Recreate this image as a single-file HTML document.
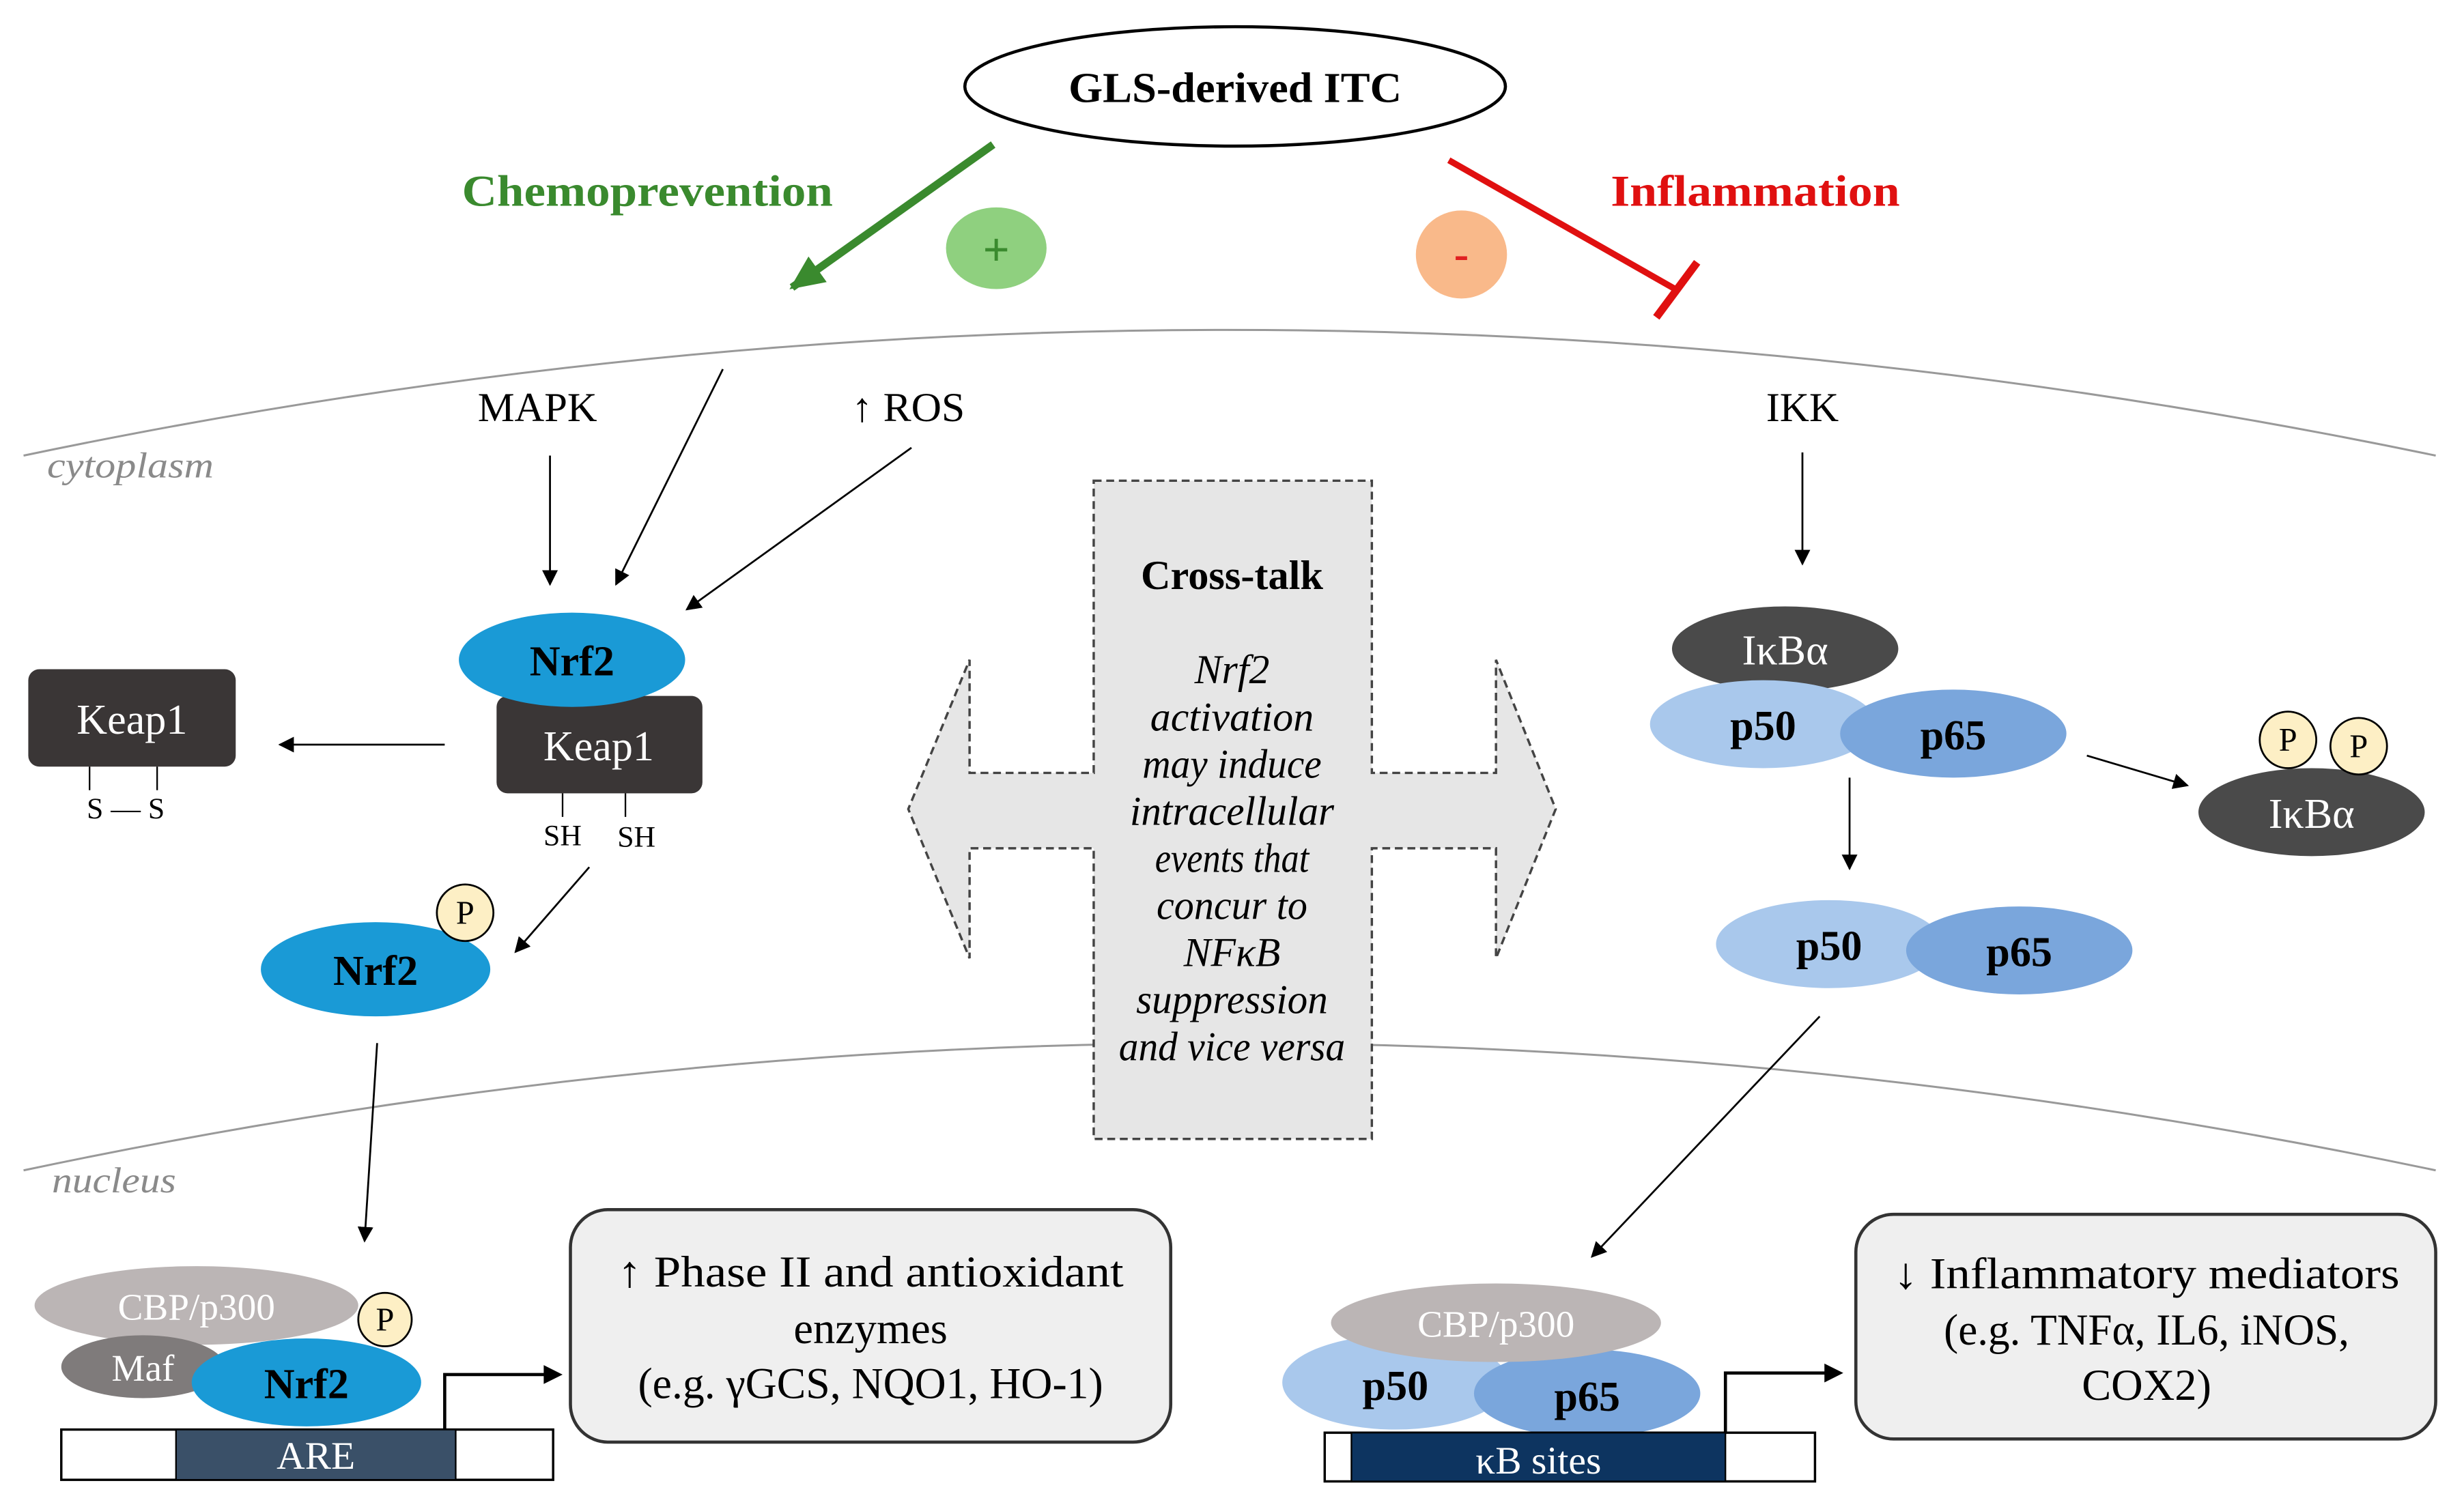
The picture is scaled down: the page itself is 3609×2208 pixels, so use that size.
<!DOCTYPE html>
<html><head><meta charset="utf-8"><style>
html,body{margin:0;padding:0;background:#fff;}
svg{display:block;}
text{font-family:"Liberation Serif",serif;}
</style></head><body>
<svg width="3609" height="2208" viewBox="0 0 1568 959.3" preserveAspectRatio="none" xmlns="http://www.w3.org/2000/svg">
<defs>
<marker id="ah" markerWidth="10" markerHeight="10" refX="9" refY="5" orient="auto" markerUnits="userSpaceOnUse"><path d="M0,0 L10,5 L0,10 z" fill="#000"/></marker>
<marker id="gh" markerWidth="24" markerHeight="24" refX="20" refY="12" orient="auto" markerUnits="userSpaceOnUse"><path d="M0,2 L22,12 L0,22 z" fill="#3a8a2e"/></marker>
</defs>
<rect width="1568" height="960" fill="#fff"/>
<path d="M15,290 Q780,130 1550,290" fill="none" stroke="#999" stroke-width="1.3"/>
<path d="M15,745 Q780,583 1550,745" fill="none" stroke="#999" stroke-width="1.3"/>
<text x="30" y="304" font-size="23" font-style="italic" fill="#8a8a8a" textLength="106" lengthAdjust="spacingAndGlyphs">cytoplasm</text>
<text x="33" y="759" font-size="23" font-style="italic" fill="#8a8a8a" textLength="79" lengthAdjust="spacingAndGlyphs">nucleus</text>

<ellipse cx="786" cy="55" rx="172" ry="38" fill="#fff" stroke="#000" stroke-width="2"/>
<text x="786" y="65" font-size="27" font-weight="bold" text-anchor="middle" textLength="212" lengthAdjust="spacingAndGlyphs">GLS-derived ITC</text>
<line x1="632" y1="92" x2="504" y2="183" stroke="#3a8a2e" stroke-width="5" marker-end="url(#gh)"/>
<text x="412" y="131" font-size="28" font-weight="bold" fill="#3a8a2e" text-anchor="middle" textLength="236" lengthAdjust="spacingAndGlyphs">Chemoprevention</text>
<ellipse cx="634" cy="158" rx="32" ry="26" fill="#8fd07f"/>
<text x="634" y="169" font-size="30" font-weight="bold" fill="#3a8a2e" text-anchor="middle">+</text>
<ellipse cx="930" cy="162" rx="29" ry="28" fill="#f9b98a"/>
<text x="930" y="171" font-size="28" font-weight="bold" fill="#e02020" text-anchor="middle">-</text>
<line x1="922" y1="102" x2="1066" y2="184" stroke="#e01010" stroke-width="4"/>
<line x1="1054" y1="202" x2="1080" y2="167" stroke="#e01010" stroke-width="5"/>
<text x="1117" y="131" font-size="28" font-weight="bold" fill="#e01010" text-anchor="middle" textLength="184" lengthAdjust="spacingAndGlyphs">Inflammation</text>

<text x="342" y="268" font-size="26" text-anchor="middle" textLength="76" lengthAdjust="spacingAndGlyphs">MAPK</text>
<text x="578" y="268" font-size="26" text-anchor="middle" textLength="72" lengthAdjust="spacingAndGlyphs">↑ ROS</text>
<text x="1147" y="268" font-size="26" text-anchor="middle">IKK</text>
<g stroke="#000" stroke-width="1.2">
<line x1="350" y1="290" x2="350" y2="372" marker-end="url(#ah)"/>
<line x1="460" y1="235" x2="392" y2="372" marker-end="url(#ah)"/>
<line x1="580" y1="285" x2="437" y2="388" marker-end="url(#ah)"/>
<line x1="1147" y1="288" x2="1147" y2="359" marker-end="url(#ah)"/>
<line x1="283" y1="474" x2="178" y2="474" marker-end="url(#ah)"/>
<line x1="375" y1="552" x2="328" y2="606" marker-end="url(#ah)"/>
<line x1="240" y1="664" x2="232" y2="790" marker-end="url(#ah)"/>
<line x1="1328" y1="481" x2="1392" y2="500" marker-end="url(#ah)"/>
<line x1="1177" y1="495" x2="1177" y2="553" marker-end="url(#ah)"/>
<line x1="1158" y1="647" x2="1013" y2="800" marker-end="url(#ah)"/>
</g>

<rect x="316" y="443" width="131" height="62" rx="7" fill="#3a3636"/>
<text x="381" y="484" font-size="27" fill="#fff" text-anchor="middle">Keap1</text>
<ellipse cx="364" cy="420" rx="72" ry="30" fill="#1a9ad6"/>
<text x="364" y="430" font-size="27" font-weight="bold" text-anchor="middle">Nrf2</text>
<line x1="358" y1="505" x2="358" y2="520" stroke="#000"/>
<line x1="398" y1="505" x2="398" y2="520" stroke="#000"/>
<text x="358" y="538" font-size="19" text-anchor="middle">SH</text>
<text x="405" y="539" font-size="19" text-anchor="middle">SH</text>
<rect x="18" y="426" width="132" height="62" rx="7" fill="#3a3636"/>
<text x="84" y="467" font-size="27" fill="#fff" text-anchor="middle">Keap1</text>
<line x1="57" y1="488" x2="57" y2="503" stroke="#000"/>
<line x1="100" y1="488" x2="100" y2="503" stroke="#000"/>
<text x="80" y="521" font-size="19" text-anchor="middle">S — S</text>
<ellipse cx="239" cy="617" rx="73" ry="30" fill="#1a9ad6"/>
<text x="239" y="627" font-size="27" font-weight="bold" text-anchor="middle">Nrf2</text>
<circle cx="296" cy="581" r="18" fill="#fdefc5" stroke="#000" stroke-width="1.2"/>
<text x="296" y="588" font-size="21" text-anchor="middle">P</text>

<ellipse cx="125" cy="831" rx="103" ry="25" fill="#bbb5b5"/>
<text x="125" y="840" font-size="24" fill="#fff" text-anchor="middle">CBP/p300</text>
<ellipse cx="91" cy="870" rx="52" ry="20" fill="#7f7b7b"/>
<text x="91" y="879" font-size="24" fill="#fff" text-anchor="middle">Maf</text>
<ellipse cx="195" cy="880" rx="73" ry="28" fill="#1a9ad6"/>
<text x="195" y="890" font-size="27" font-weight="bold" text-anchor="middle">Nrf2</text>
<circle cx="245" cy="840" r="17" fill="#fdefc5" stroke="#000" stroke-width="1.2"/>
<text x="245" y="847" font-size="21" text-anchor="middle">P</text>
<rect x="39" y="910" width="313" height="32" fill="#fff" stroke="#000" stroke-width="1.5"/>
<rect x="112" y="910" width="178" height="32" fill="#3a5068" stroke="#000" stroke-width="1"/>
<text x="201" y="935" font-size="25" fill="#fff" text-anchor="middle">ARE</text>
<polyline points="283,910 283,875 350,875" fill="none" stroke="#000" stroke-width="2"/>
<path d="M346,869 L358,875 L346,881 z" fill="#000"/>
<rect x="363" y="770" width="382" height="148" rx="24" fill="#efefef" stroke="#333" stroke-width="2"/>
<text x="554" y="819" font-size="28" text-anchor="middle" textLength="322" lengthAdjust="spacingAndGlyphs">↑ Phase II and antioxidant</text>
<text x="554" y="855" font-size="28" text-anchor="middle">enzymes</text>
<text x="554" y="890" font-size="28" text-anchor="middle" textLength="296" lengthAdjust="spacingAndGlyphs">(e.g. γGCS, NQO1, HO-1)</text>

<path d="M696,306 L873,306 L873,492 L952,492 L952,420 L990,515 L952,610 L952,540 L873,540 L873,725 L696,725 L696,540 L617,540 L617,610 L578,515 L617,420 L617,492 L696,492 Z" fill="#e6e6e6" stroke="#444" stroke-width="1.5" stroke-dasharray="5,3"/>
<text x="784" y="375" font-size="26" font-weight="bold" text-anchor="middle" textLength="116" lengthAdjust="spacingAndGlyphs">Cross-talk</text>
<g font-size="26" font-style="italic" text-anchor="middle">
<text x="784" y="435">Nrf2</text>
<text x="784" y="465" textLength="104" lengthAdjust="spacingAndGlyphs">activation</text>
<text x="784" y="495" textLength="114" lengthAdjust="spacingAndGlyphs">may induce</text>
<text x="784" y="525" textLength="130" lengthAdjust="spacingAndGlyphs">intracellular</text>
<text x="784" y="555" textLength="98" lengthAdjust="spacingAndGlyphs">events that</text>
<text x="784" y="585" textLength="96" lengthAdjust="spacingAndGlyphs">concur to</text>
<text x="784" y="615">NFκB</text>
<text x="784" y="645" textLength="122" lengthAdjust="spacingAndGlyphs">suppression</text>
<text x="784" y="675" textLength="144" lengthAdjust="spacingAndGlyphs">and vice versa</text>
</g>

<ellipse cx="1136" cy="413" rx="72" ry="27" fill="#4a4a4a"/>
<text x="1136" y="423" font-size="27" fill="#fff" text-anchor="middle">IκBα</text>
<ellipse cx="1122" cy="461" rx="72" ry="28" fill="#a9c8ec"/>
<ellipse cx="1243" cy="467" rx="72" ry="28" fill="#7aa6dc"/>
<text x="1122" y="471" font-size="27" font-weight="bold" text-anchor="middle">p50</text>
<text x="1243" y="477" font-size="27" font-weight="bold" text-anchor="middle">p65</text>
<ellipse cx="1471" cy="517" rx="72" ry="28" fill="#4a4a4a"/>
<text x="1471" y="527" font-size="27" fill="#fff" text-anchor="middle">IκBα</text>
<circle cx="1456" cy="471" r="18" fill="#fdefc5" stroke="#000" stroke-width="1.2"/>
<text x="1456" y="478" font-size="21" text-anchor="middle">P</text>
<circle cx="1501" cy="475" r="18" fill="#fdefc5" stroke="#000" stroke-width="1.2"/>
<text x="1501" y="482" font-size="21" text-anchor="middle">P</text>
<ellipse cx="1164" cy="601" rx="72" ry="28" fill="#a9c8ec"/>
<ellipse cx="1285" cy="605" rx="72" ry="28" fill="#7aa6dc"/>
<text x="1164" y="611" font-size="27" font-weight="bold" text-anchor="middle">p50</text>
<text x="1285" y="615" font-size="27" font-weight="bold" text-anchor="middle">p65</text>

<ellipse cx="888" cy="880" rx="72" ry="30" fill="#a9c8ec"/>
<ellipse cx="1010" cy="887" rx="72" ry="28" fill="#7aa6dc"/>
<ellipse cx="952" cy="842" rx="105" ry="25" fill="#bbb5b5"/>
<text x="952" y="851" font-size="24" fill="#fff" text-anchor="middle">CBP/p300</text>
<text x="888" y="891" font-size="27" font-weight="bold" text-anchor="middle">p50</text>
<text x="1010" y="898" font-size="27" font-weight="bold" text-anchor="middle">p65</text>
<rect x="843" y="912" width="312" height="31" fill="#fff" stroke="#000" stroke-width="1.5"/>
<rect x="860" y="912" width="238" height="31" fill="#0d3460" stroke="#000" stroke-width="1"/>
<text x="979" y="938" font-size="25" fill="#fff" text-anchor="middle">κB sites</text>
<polyline points="1098,912 1098,874 1165,874" fill="none" stroke="#000" stroke-width="2"/>
<path d="M1161,868 L1173,874 L1161,880 z" fill="#000"/>
<rect x="1181" y="773" width="369" height="143" rx="24" fill="#efefef" stroke="#333" stroke-width="2"/>
<text x="1366" y="820" font-size="28" text-anchor="middle" textLength="322" lengthAdjust="spacingAndGlyphs">↓ Inflammatory mediators</text>
<text x="1366" y="856" font-size="28" text-anchor="middle" textLength="258" lengthAdjust="spacingAndGlyphs">(e.g. TNFα, IL6, iNOS,</text>
<text x="1366" y="891" font-size="28" text-anchor="middle">COX2)</text>
</svg>
</body></html>
